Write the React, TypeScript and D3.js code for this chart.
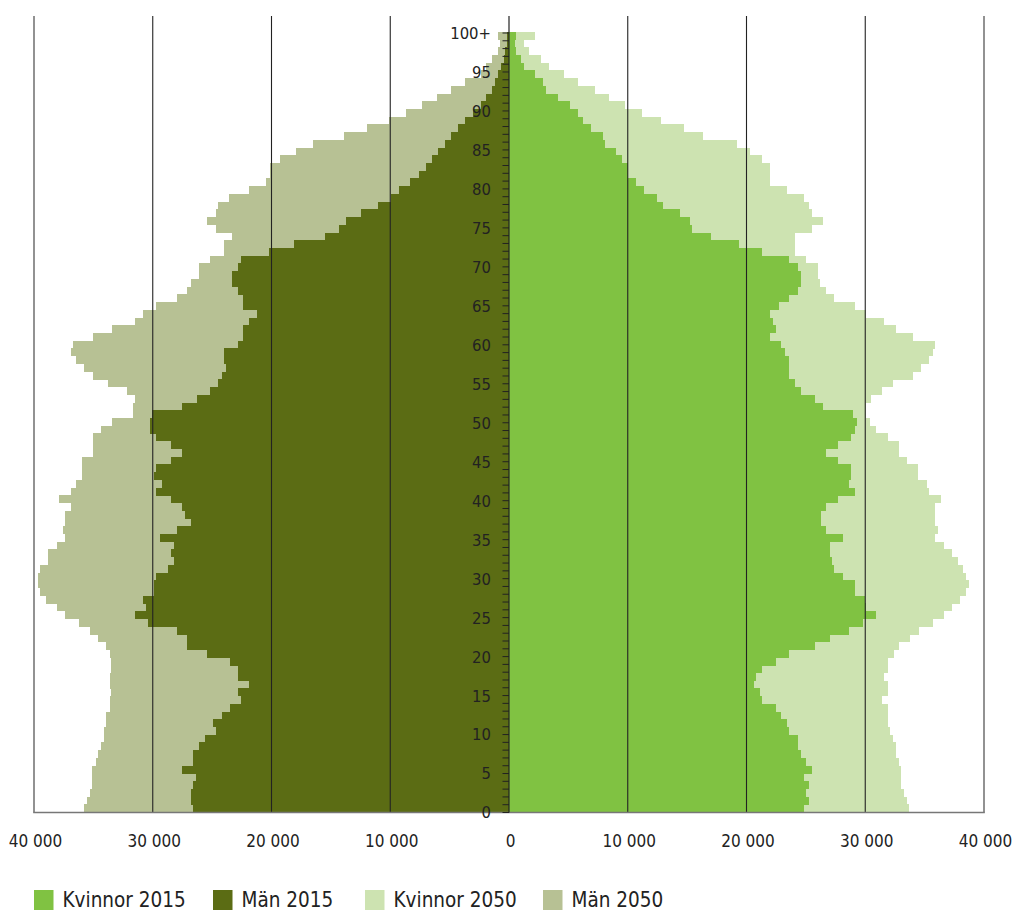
import React from 'react';
import * as d3 from 'd3';

// ages 0..100 (100 = 100+), values in thousands
const ages = d3.range(0, 101);

const manner2015 = [
  26.6, 26.8, 26.8, 26.6, 26.4, 27.5, 26.6, 26.6, 26.1, 25.6,
  24.7, 24.9, 24.2, 23.5, 22.6, 22.8, 21.9, 22.8, 22.8, 23.5,
  25.4, 27.1, 27.1, 28.0, 30.4, 31.5, 30.6, 30.8, 29.9, 29.9,
  29.7, 28.7, 28.2, 28.5, 28.2, 29.4, 28.0, 26.8, 27.3, 27.5,
  28.5, 29.7, 29.2, 29.9, 29.7, 28.5, 27.5, 28.5, 29.7, 30.2,
  30.2, 30.1, 27.5, 26.3, 25.2, 24.5, 24.2, 23.8, 24.0, 24.0,
  22.8, 22.4, 22.4, 21.9, 21.2, 22.4, 22.4, 22.8, 23.3, 23.3,
  22.8, 22.6, 20.2, 18.1, 15.5, 14.3, 13.7, 12.5, 11.0, 9.9,
  9.3, 8.3, 7.6, 7.0, 6.5, 6.0, 5.4, 4.9, 4.3, 3.7,
  3.0, 2.4, 1.9, 1.4, 1.2, 0.9, 0.65, 0.45, 0.3, 0.2,
  0.15,
];

const manner2050 = [
  35.8, 35.5, 35.3, 35.1, 35.1, 35.1, 34.8, 34.6, 34.4, 34.1,
  34.1, 33.9, 33.9, 33.6, 33.6, 33.5, 33.6, 33.6, 33.5, 33.5,
  33.6, 33.9, 34.6, 35.3, 36.2, 37.4, 38.1, 39.0, 39.5, 39.7,
  39.7, 39.5, 38.8, 38.8, 38.1, 37.4, 37.6, 37.4, 37.4, 36.9,
  37.9, 36.9, 36.5, 36.0, 36.0, 36.0, 35.0, 35.0, 35.0, 34.4,
  33.4, 31.7, 31.7, 31.5, 32.2, 33.8, 35.0, 35.8, 36.5, 36.9,
  36.7, 35.0, 33.4, 31.5, 30.8, 29.7, 28.0, 27.1, 26.8, 26.1,
  26.1, 25.2, 24.0, 24.0, 23.3, 24.7, 25.4, 24.7, 24.5, 23.6,
  21.9, 20.5, 20.1, 20.1, 19.3, 17.9, 16.5, 13.9, 12.0, 10.1,
  8.7, 7.3, 6.1, 4.9, 3.7, 2.4, 1.9, 1.4, 0.95, 0.75,
  0.9,
];

const kvinnor2015 = [
  24.8, 25.3, 25.0, 25.3, 24.8, 25.5, 25.0, 24.6, 24.3, 24.3,
  23.6, 23.4, 22.9, 22.5, 21.3, 21.1, 20.6, 20.8, 21.3, 22.5,
  23.6, 25.8, 27.0, 28.6, 29.8, 30.9, 30.1, 30.0, 29.1, 29.1,
  28.1, 27.4, 27.2, 27.0, 27.0, 28.1, 26.7, 26.3, 26.3, 26.7,
  27.7, 29.1, 28.6, 28.8, 28.8, 27.7, 26.7, 27.7, 28.8, 29.1,
  29.3, 29.0, 26.4, 25.8, 24.6, 24.1, 23.6, 23.6, 23.6, 23.2,
  22.9, 22.0, 22.5, 22.2, 22.0, 22.7, 23.6, 24.3, 24.6, 24.6,
  24.3, 23.6, 21.3, 19.4, 17.0, 15.4, 15.2, 14.4, 13.0, 12.5,
  11.4, 10.7, 10.0, 10.0, 9.5, 9.0, 8.1, 7.9, 6.9, 6.2,
  5.8, 5.1, 4.1, 3.1, 2.9, 2.2, 1.3, 1.0, 0.6, 0.5,
  0.55,
];

const kvinnor2050 = [
  33.7, 33.5, 33.3, 33.0, 33.0, 33.0, 32.8, 32.6, 32.6, 32.3,
  32.1, 31.9, 31.9, 31.9, 31.4, 31.9, 31.9, 31.6, 31.9, 31.9,
  32.4, 32.8, 33.8, 34.5, 35.7, 36.6, 37.3, 38.0, 38.5, 38.7,
  38.5, 38.2, 37.8, 37.3, 36.6, 35.9, 36.1, 35.9, 35.9, 35.9,
  36.4, 35.4, 35.2, 34.4, 34.4, 33.5, 32.8, 32.8, 31.9, 30.9,
  30.4, 30.1, 30.1, 30.5, 31.4, 32.3, 34.0, 34.7, 35.4, 35.7,
  35.9, 34.0, 32.6, 31.6, 30.1, 29.1, 27.4, 26.7, 26.2, 26.0,
  26.0, 25.0, 24.1, 24.1, 24.1, 25.5, 26.4, 25.5, 25.3, 24.8,
  23.4, 22.0, 22.0, 22.0, 21.3, 20.3, 19.2, 16.3, 14.7, 12.8,
  11.2, 9.8, 8.4, 7.2, 5.8, 4.6, 3.4, 2.7, 1.7, 1.3,
  2.2,
];

const xTicks = [-40000, -30000, -20000, -10000, 0, 10000, 20000, 30000, 40000];
const gridTicks = [-30000, -20000, -10000, 10000, 20000, 30000];
const ageTicks = d3.range(0, 101, 5);

const legendItems = [
  { label: 'Kvinnor 2015', color: '#80c242' },
  { label: 'Män 2015', color: '#5b6c14' },
  { label: 'Kvinnor 2050', color: '#cde3b1' },
  { label: 'Män 2050', color: '#b7c194' },
];

const W = 1013;
const H = 911;
const FONT = '"DejaVu Sans Condensed", "DejaVu Sans", sans-serif';

export default function App() {
  const x = d3.scaleLinear().domain([-40000, 40000]).range([34, 984]);
  const y = d3.scaleBand<number>().domain(ages).range([812, 31.7]).padding(0);
  const ageY = d3.scaleLinear().domain([0, 100]).range([812.5, 33]);
  const fmt = d3.formatLocale({ decimal: ',', thousands: '\u00a0', grouping: [3], currency: ['', ''] }).format(',d');

  const top = 16;
  const bottom = 812.5;
  const bw = y.bandwidth();

  const menBars = (vals: number[], color: string) =>
    ages.map((a, i) => (
      <rect key={a} x={x(-vals[i] * 1000)} y={y(a)} width={x(0) - x(-vals[i] * 1000)} height={bw + 0.3} fill={color} />
    ));
  const womenBars = (vals: number[], color: string) =>
    ages.map((a, i) => (
      <rect key={a} x={x(0)} y={y(a)} width={x(vals[i] * 1000) - x(0)} height={bw + 0.3} fill={color} />
    ));

  const legendX = [34, 213, 365, 543];

  return (
    <svg width={W} height={H} style={{ position: 'absolute', left: 0, top: 0, display: 'block' }} fontFamily={FONT}>
      <rect width={W} height={H} fill="#fff" />
      <g shapeRendering="crispEdges">
        <g>{menBars(manner2050, legendItems[3].color)}</g>
        <g>{womenBars(kvinnor2050, legendItems[2].color)}</g>
        <g>{menBars(manner2015, legendItems[1].color)}</g>
        <g>{womenBars(kvinnor2015, legendItems[0].color)}</g>
      </g>

      {gridTicks.map(t => (
        <line key={t} x1={x(t)} x2={x(t)} y1={top} y2={bottom} stroke="#222" strokeWidth={1.1} />
      ))}
      <line x1={x(-40000)} x2={x(-40000)} y1={top} y2={bottom} stroke="#777" strokeWidth={1.6} />
      <line x1={x(40000)} x2={x(40000)} y1={top} y2={bottom} stroke="#777" strokeWidth={1.6} />
      <line x1={x(-40000) - 0.8} x2={x(40000) + 0.8} y1={bottom} y2={bottom} stroke="#777" strokeWidth={1.6} />

      {/* age axis */}
      <line x1={x(0)} x2={x(0)} y1={top} y2={bottom} stroke="#222" strokeWidth={1.2} />
      {ages.map(a => (
        <line key={a} x1={x(0) - 6.5} x2={x(0)} y1={ageY(a)} y2={ageY(a)} stroke="#222" strokeWidth={1} />
      ))}
      {ageTicks.map(a => (
        <text key={a} x={491} y={ageY(a)} dy="0.36em" textAnchor="end" fontSize={16.5} fill="#222">
          {a === 100 ? '100+' : a}
        </text>
      ))}

      {xTicks.map(t => (
        <text key={t} x={x(t) + 1.5} y={847} textAnchor="middle" fontSize={17} fill="#222">
          {fmt(Math.abs(t))}
        </text>
      ))}

      {legendItems.map((d, i) => (
        <g key={d.label} transform={`translate(${legendX[i]},890)`}>
          <rect width={19.5} height={20} fill={d.color} />
          <text x={28.5} y={17} fontSize={20.5} fill="#222">{d.label}</text>
        </g>
      ))}
    </svg>
  );
}
